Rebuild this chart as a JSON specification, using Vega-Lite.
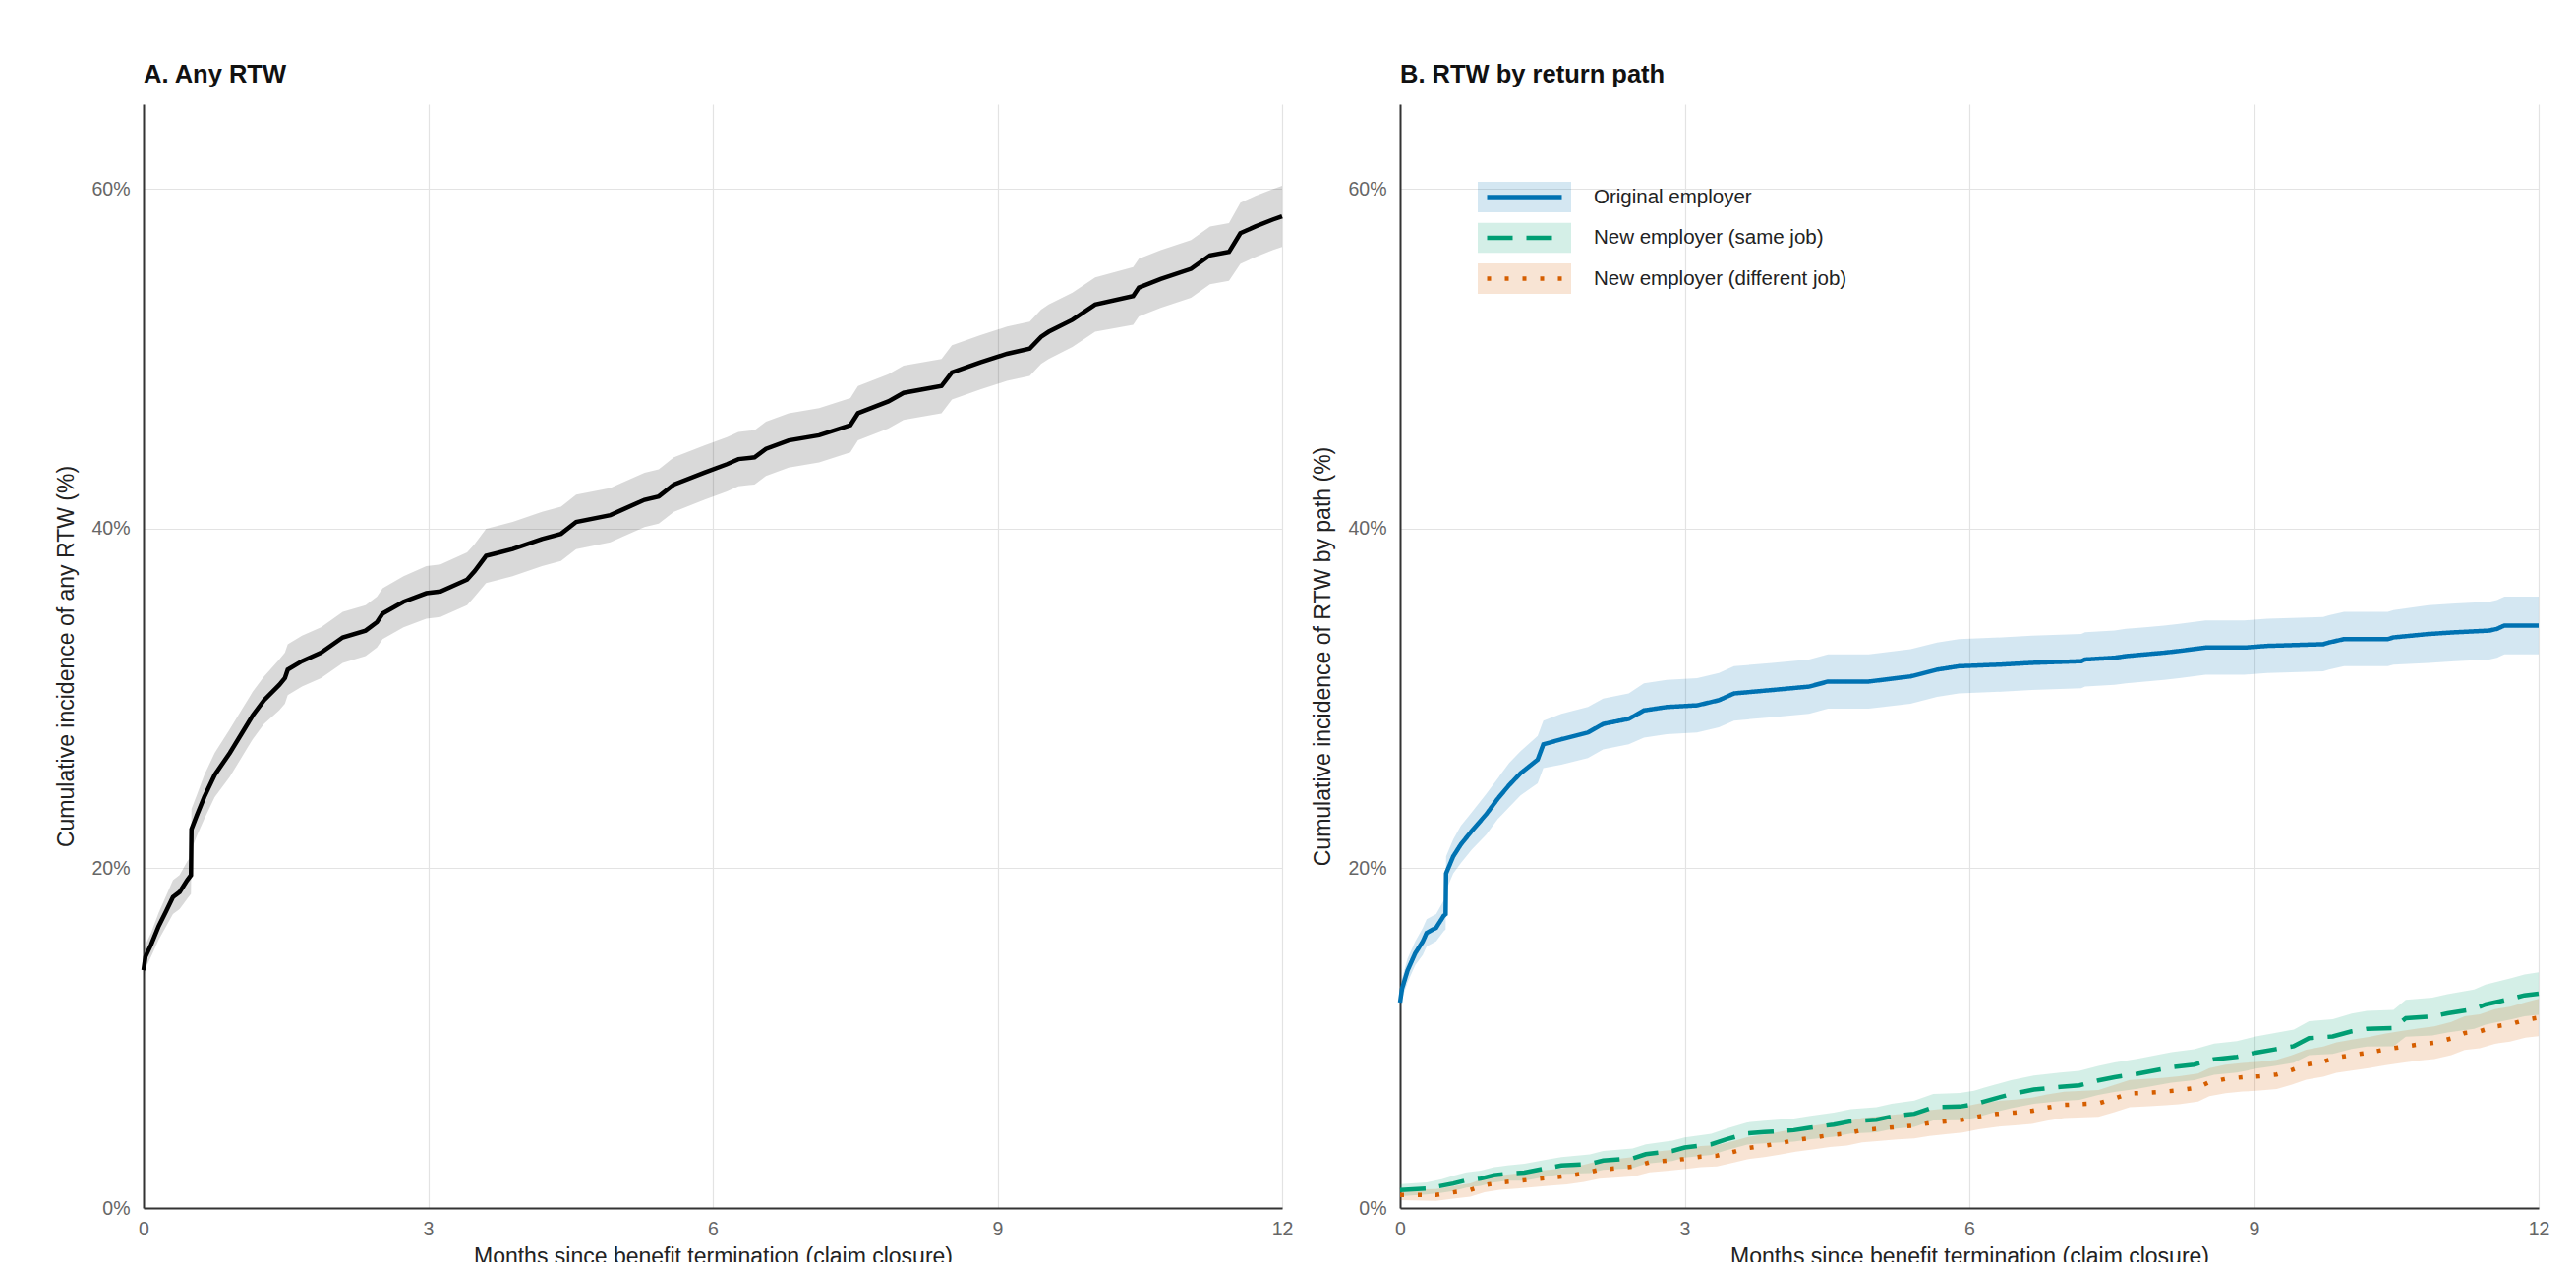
{
  "$schema": "https://vega.github.io/schema/vega-lite/v6.json",
  "background": "white",
  "padding": {"left": 56, "top": 63, "right": 10, "bottom": 10},
  "config": {
    "font": "Liberation Sans",
    "view": {"stroke": null},
    "axis": {
      "labelFont": "Liberation Sans", "labelFontSize": 19.5, "labelColor": "#666666",
      "titleFont": "Liberation Sans", "titleFontSize": 23, "titleFontWeight": "normal", "titleColor": "#222222",
      "ticks": false, "domainColor": "#333333", "domainWidth": 2,
      "gridColor": "#e3e3e3", "gridWidth": 1.2, "labelFlush": false, "labelPadding": 13
    },
    "title": {"font": "Liberation Sans", "fontSize": 25.5, "fontWeight": "bold", "color": "#111111", "anchor": "start", "frame": "group", "baseline": "alphabetic", "offset": 17}
  },
  "datasets": {
    "any": [
      {"t":0,"est":14.0,"lo":13.4,"hi":14.6},{"t":0.02,"est":14.8,"lo":14.1,"hi":15.5},{"t":0.08,"est":15.5,"lo":14.8,"hi":16.2},{"t":0.16,"est":16.6,"lo":15.8,"hi":17.4},{"t":0.24,"est":17.5,"lo":16.6,"hi":18.4},{"t":0.31,"est":18.3,"lo":17.3,"hi":19.3},{"t":0.38,"est":18.6,"lo":17.6,"hi":19.6},{"t":0.46,"est":19.3,"lo":18.2,"hi":20.4},{"t":0.50,"est":19.6,"lo":18.5,"hi":20.7},{"t":0.505,"est":22.3,"lo":21.1,"hi":23.5},{"t":0.56,"est":23.1,"lo":21.9,"hi":24.3},{"t":0.64,"est":24.2,"lo":22.9,"hi":25.5},{"t":0.75,"est":25.5,"lo":24.2,"hi":26.8},{"t":0.91,"est":26.8,"lo":25.4,"hi":28.2},{"t":1.03,"est":27.9,"lo":26.5,"hi":29.3},{"t":1.15,"est":29.0,"lo":27.6,"hi":30.4},{"t":1.27,"est":29.9,"lo":28.5,"hi":31.3},{"t":1.43,"est":30.8,"lo":29.3,"hi":32.3},{"t":1.49,"est":31.2,"lo":29.7,"hi":32.7},{"t":1.52,"est":31.7,"lo":30.2,"hi":33.2},{"t":1.67,"est":32.2,"lo":30.7,"hi":33.7},{"t":1.87,"est":32.7,"lo":31.2,"hi":34.2},{"t":2.10,"est":33.6,"lo":32.1,"hi":35.1},{"t":2.34,"est":34.0,"lo":32.5,"hi":35.5},{"t":2.46,"est":34.5,"lo":33.0,"hi":36.0},{"t":2.52,"est":35.0,"lo":33.5,"hi":36.5},{"t":2.74,"est":35.7,"lo":34.2,"hi":37.2},{"t":2.98,"est":36.2,"lo":34.7,"hi":37.8},{"t":3.13,"est":36.3,"lo":34.8,"hi":37.9},{"t":3.41,"est":37.0,"lo":35.5,"hi":38.6},{"t":3.49,"est":37.5,"lo":36.0,"hi":39.1},{"t":3.61,"est":38.4,"lo":36.8,"hi":40.0},{"t":3.89,"est":38.8,"lo":37.2,"hi":40.4},{"t":4.20,"est":39.4,"lo":37.8,"hi":41.0},{"t":4.40,"est":39.7,"lo":38.1,"hi":41.3},{"t":4.56,"est":40.4,"lo":38.8,"hi":42.0},{"t":4.92,"est":40.8,"lo":39.2,"hi":42.4},{"t":5.04,"est":41.1,"lo":39.5,"hi":42.7},{"t":5.28,"est":41.7,"lo":40.1,"hi":43.3},{"t":5.43,"est":41.9,"lo":40.3,"hi":43.5},{"t":5.59,"est":42.6,"lo":41.0,"hi":44.2},{"t":5.91,"est":43.3,"lo":41.7,"hi":44.9},{"t":6.15,"est":43.8,"lo":42.2,"hi":45.4},{"t":6.27,"est":44.1,"lo":42.5,"hi":45.7},{"t":6.44,"est":44.2,"lo":42.6,"hi":45.8},{"t":6.56,"est":44.7,"lo":43.1,"hi":46.3},{"t":6.80,"est":45.2,"lo":43.6,"hi":46.8},{"t":7.12,"est":45.5,"lo":43.9,"hi":47.1},{"t":7.45,"est":46.1,"lo":44.5,"hi":47.7},{"t":7.53,"est":46.8,"lo":45.2,"hi":48.4},{"t":7.85,"est":47.5,"lo":45.9,"hi":49.1},{"t":8.01,"est":48.0,"lo":46.4,"hi":49.6},{"t":8.41,"est":48.4,"lo":46.8,"hi":50.0},{"t":8.52,"est":49.2,"lo":47.6,"hi":50.8},{"t":8.82,"est":49.8,"lo":48.2,"hi":51.4},{"t":9.10,"est":50.3,"lo":48.7,"hi":51.9},{"t":9.34,"est":50.6,"lo":49.0,"hi":52.2},{"t":9.46,"est":51.3,"lo":49.7,"hi":52.9},{"t":9.54,"est":51.6,"lo":50.0,"hi":53.2},{"t":9.79,"est":52.3,"lo":50.7,"hi":53.9},{"t":10.03,"est":53.2,"lo":51.6,"hi":54.8},{"t":10.43,"est":53.7,"lo":52.0,"hi":55.4},{"t":10.49,"est":54.2,"lo":52.5,"hi":55.9},{"t":10.72,"est":54.7,"lo":53.0,"hi":56.4},{"t":11.04,"est":55.3,"lo":53.6,"hi":57.0},{"t":11.24,"est":56.1,"lo":54.4,"hi":57.8},{"t":11.44,"est":56.3,"lo":54.6,"hi":58.0},{"t":11.56,"est":57.4,"lo":55.6,"hi":59.2},{"t":11.72,"est":57.8,"lo":56.0,"hi":59.6},{"t":11.90,"est":58.2,"lo":56.4,"hi":60.0},{"t":12.0,"est":58.4,"lo":56.6,"hi":60.2}
    ],
    "paths": [
      {"path":"Original employer","t":0,"est":12.1,"lo":11.5,"hi":12.7},{"path":"Original employer","t":0.02,"est":12.9,"lo":12.3,"hi":13.5},{"path":"Original employer","t":0.08,"est":14.0,"lo":13.3,"hi":14.7},{"path":"Original employer","t":0.16,"est":15.0,"lo":14.3,"hi":15.7},{"path":"Original employer","t":0.24,"est":15.7,"lo":14.9,"hi":16.5},{"path":"Original employer","t":0.28,"est":16.2,"lo":15.4,"hi":17.0},{"path":"Original employer","t":0.38,"est":16.5,"lo":15.7,"hi":17.3},{"path":"Original employer","t":0.46,"est":17.2,"lo":16.3,"hi":18.1},{"path":"Original employer","t":0.48,"est":17.3,"lo":16.4,"hi":18.2},{"path":"Original employer","t":0.485,"est":19.7,"lo":18.7,"hi":20.7},{"path":"Original employer","t":0.56,"est":20.7,"lo":19.7,"hi":21.7},{"path":"Original employer","t":0.64,"est":21.4,"lo":20.3,"hi":22.5},{"path":"Original employer","t":0.755,"est":22.2,"lo":21.1,"hi":23.3},{"path":"Original employer","t":0.91,"est":23.2,"lo":22.0,"hi":24.4},{"path":"Original employer","t":1.03,"est":24.1,"lo":22.9,"hi":25.3},{"path":"Original employer","t":1.15,"est":24.9,"lo":23.6,"hi":26.2},{"path":"Original employer","t":1.27,"est":25.6,"lo":24.3,"hi":26.9},{"path":"Original employer","t":1.45,"est":26.4,"lo":25.0,"hi":27.8},{"path":"Original employer","t":1.51,"est":27.3,"lo":25.9,"hi":28.7},{"path":"Original employer","t":1.70,"est":27.6,"lo":26.1,"hi":29.1},{"path":"Original employer","t":1.98,"est":28.0,"lo":26.5,"hi":29.5},{"path":"Original employer","t":2.14,"est":28.5,"lo":27.0,"hi":30.0},{"path":"Original employer","t":2.41,"est":28.8,"lo":27.3,"hi":30.3},{"path":"Original employer","t":2.57,"est":29.3,"lo":27.7,"hi":30.9},{"path":"Original employer","t":2.81,"est":29.5,"lo":27.9,"hi":31.1},{"path":"Original employer","t":3.13,"est":29.6,"lo":28.0,"hi":31.2},{"path":"Original employer","t":3.36,"est":29.9,"lo":28.3,"hi":31.5},{"path":"Original employer","t":3.52,"est":30.3,"lo":28.7,"hi":31.9},{"path":"Original employer","t":3.92,"est":30.5,"lo":28.9,"hi":32.1},{"path":"Original employer","t":4.31,"est":30.7,"lo":29.1,"hi":32.3},{"path":"Original employer","t":4.51,"est":31.0,"lo":29.4,"hi":32.6},{"path":"Original employer","t":4.94,"est":31.0,"lo":29.4,"hi":32.6},{"path":"Original employer","t":5.38,"est":31.3,"lo":29.7,"hi":32.9},{"path":"Original employer","t":5.66,"est":31.7,"lo":30.1,"hi":33.3},{"path":"Original employer","t":5.89,"est":31.9,"lo":30.3,"hi":33.5},{"path":"Original employer","t":6.34,"est":32.0,"lo":30.4,"hi":33.6},{"path":"Original employer","t":6.66,"est":32.1,"lo":30.5,"hi":33.7},{"path":"Original employer","t":7.18,"est":32.2,"lo":30.6,"hi":33.8},{"path":"Original employer","t":7.22,"est":32.3,"lo":30.7,"hi":33.9},{"path":"Original employer","t":7.53,"est":32.4,"lo":30.8,"hi":34.0},{"path":"Original employer","t":7.65,"est":32.5,"lo":30.9,"hi":34.1},{"path":"Original employer","t":7.85,"est":32.6,"lo":31.0,"hi":34.2},{"path":"Original employer","t":8.05,"est":32.7,"lo":31.1,"hi":34.3},{"path":"Original employer","t":8.21,"est":32.8,"lo":31.2,"hi":34.4},{"path":"Original employer","t":8.49,"est":33.0,"lo":31.4,"hi":34.6},{"path":"Original employer","t":8.90,"est":33.0,"lo":31.4,"hi":34.6},{"path":"Original employer","t":9.14,"est":33.1,"lo":31.5,"hi":34.7},{"path":"Original employer","t":9.73,"est":33.2,"lo":31.6,"hi":34.8},{"path":"Original employer","t":9.79,"est":33.3,"lo":31.7,"hi":34.9},{"path":"Original employer","t":9.95,"est":33.5,"lo":31.9,"hi":35.1},{"path":"Original employer","t":10.41,"est":33.5,"lo":31.9,"hi":35.1},{"path":"Original employer","t":10.47,"est":33.6,"lo":32.0,"hi":35.2},{"path":"Original employer","t":10.84,"est":33.8,"lo":32.1,"hi":35.5},{"path":"Original employer","t":11.12,"est":33.9,"lo":32.2,"hi":35.6},{"path":"Original employer","t":11.48,"est":34.0,"lo":32.3,"hi":35.7},{"path":"Original employer","t":11.56,"est":34.1,"lo":32.4,"hi":35.8},{"path":"Original employer","t":11.64,"est":34.3,"lo":32.6,"hi":36.0},{"path":"Original employer","t":12.0,"est":34.3,"lo":32.6,"hi":36.0},
      {"path":"New employer (same job)","t":0,"est":1.06,"lo":0.7,"hi":1.4},{"path":"New employer (same job)","t":0.28,"est":1.15,"lo":0.8,"hi":1.5},{"path":"New employer (same job)","t":0.44,"est":1.31,"lo":0.9,"hi":1.7},{"path":"New employer (same job)","t":0.56,"est":1.44,"lo":1.0,"hi":1.9},{"path":"New employer (same job)","t":0.70,"est":1.63,"lo":1.2,"hi":2.1},{"path":"New employer (same job)","t":0.85,"est":1.73,"lo":1.3,"hi":2.2},{"path":"New employer (same job)","t":0.99,"est":1.92,"lo":1.5,"hi":2.4},{"path":"New employer (same job)","t":1.13,"est":2.02,"lo":1.6,"hi":2.5},{"path":"New employer (same job)","t":1.31,"est":2.08,"lo":1.6,"hi":2.6},{"path":"New employer (same job)","t":1.55,"est":2.35,"lo":1.85,"hi":2.85},{"path":"New employer (same job)","t":1.70,"est":2.50,"lo":2.0,"hi":3.0},{"path":"New employer (same job)","t":2.00,"est":2.60,"lo":2.05,"hi":3.15},{"path":"New employer (same job)","t":2.14,"est":2.79,"lo":2.25,"hi":3.35},{"path":"New employer (same job)","t":2.45,"est":2.92,"lo":2.35,"hi":3.5},{"path":"New employer (same job)","t":2.59,"est":3.17,"lo":2.6,"hi":3.75},{"path":"New employer (same job)","t":2.87,"est":3.36,"lo":2.76,"hi":3.96},{"path":"New employer (same job)","t":3.00,"est":3.56,"lo":2.96,"hi":4.16},{"path":"New employer (same job)","t":3.28,"est":3.75,"lo":3.13,"hi":4.37},{"path":"New employer (same job)","t":3.44,"est":4.04,"lo":3.4,"hi":4.68},{"path":"New employer (same job)","t":3.66,"est":4.39,"lo":3.74,"hi":5.04},{"path":"New employer (same job)","t":3.84,"est":4.47,"lo":3.8,"hi":5.14},{"path":"New employer (same job)","t":4.15,"est":4.58,"lo":3.9,"hi":5.26},{"path":"New employer (same job)","t":4.31,"est":4.72,"lo":4.03,"hi":5.41},{"path":"New employer (same job)","t":4.57,"est":4.91,"lo":4.2,"hi":5.62},{"path":"New employer (same job)","t":4.75,"est":5.10,"lo":4.38,"hi":5.82},{"path":"New employer (same job)","t":5.02,"est":5.20,"lo":4.46,"hi":5.94},{"path":"New employer (same job)","t":5.18,"est":5.39,"lo":4.64,"hi":6.14},{"path":"New employer (same job)","t":5.42,"est":5.55,"lo":4.78,"hi":6.32},{"path":"New employer (same job)","t":5.62,"est":5.93,"lo":5.15,"hi":6.71},{"path":"New employer (same job)","t":5.90,"est":5.97,"lo":5.17,"hi":6.77},{"path":"New employer (same job)","t":6.05,"est":6.10,"lo":5.3,"hi":6.9},{"path":"New employer (same job)","t":6.15,"est":6.26,"lo":5.45,"hi":7.07},{"path":"New employer (same job)","t":6.27,"est":6.45,"lo":5.64,"hi":7.26},{"path":"New employer (same job)","t":6.44,"est":6.70,"lo":5.88,"hi":7.52},{"path":"New employer (same job)","t":6.68,"est":6.97,"lo":6.14,"hi":7.8},{"path":"New employer (same job)","t":6.96,"est":7.13,"lo":6.29,"hi":7.97},{"path":"New employer (same job)","t":7.16,"est":7.22,"lo":6.37,"hi":8.07},{"path":"New employer (same job)","t":7.36,"est":7.51,"lo":6.65,"hi":8.37},{"path":"New employer (same job)","t":7.53,"est":7.70,"lo":6.83,"hi":8.57},{"path":"New employer (same job)","t":7.77,"est":7.90,"lo":7.02,"hi":8.78},{"path":"New employer (same job)","t":8.13,"est":8.28,"lo":7.38,"hi":9.18},{"path":"New employer (same job)","t":8.37,"est":8.44,"lo":7.53,"hi":9.35},{"path":"New employer (same job)","t":8.58,"est":8.76,"lo":7.84,"hi":9.68},{"path":"New employer (same job)","t":8.82,"est":8.90,"lo":7.97,"hi":9.83},{"path":"New employer (same job)","t":9.02,"est":9.15,"lo":8.2,"hi":10.1},{"path":"New employer (same job)","t":9.22,"est":9.34,"lo":8.37,"hi":10.31},{"path":"New employer (same job)","t":9.42,"est":9.53,"lo":8.55,"hi":10.51},{"path":"New employer (same job)","t":9.58,"est":10.0,"lo":9.0,"hi":11.0},{"path":"New employer (same job)","t":9.83,"est":10.1,"lo":9.08,"hi":11.12},{"path":"New employer (same job)","t":10.03,"est":10.4,"lo":9.36,"hi":11.44},{"path":"New employer (same job)","t":10.19,"est":10.55,"lo":9.5,"hi":11.6},{"path":"New employer (same job)","t":10.47,"est":10.59,"lo":9.52,"hi":11.66},{"path":"New employer (same job)","t":10.60,"est":11.17,"lo":10.08,"hi":12.26},{"path":"New employer (same job)","t":10.88,"est":11.27,"lo":10.16,"hi":12.38},{"path":"New employer (same job)","t":11.04,"est":11.46,"lo":10.33,"hi":12.59},{"path":"New employer (same job)","t":11.32,"est":11.71,"lo":10.55,"hi":12.87},{"path":"New employer (same job)","t":11.44,"est":11.98,"lo":10.8,"hi":13.16},{"path":"New employer (same job)","t":11.72,"est":12.33,"lo":11.12,"hi":13.54},{"path":"New employer (same job)","t":11.85,"est":12.52,"lo":11.29,"hi":13.75},{"path":"New employer (same job)","t":12.0,"est":12.62,"lo":11.37,"hi":13.87},
      {"path":"New employer (different job)","t":0,"est":0.77,"lo":0.47,"hi":1.07},{"path":"New employer (different job)","t":0.38,"est":0.77,"lo":0.42,"hi":1.12},{"path":"New employer (different job)","t":0.56,"est":0.92,"lo":0.55,"hi":1.29},{"path":"New employer (different job)","t":0.74,"est":1.06,"lo":0.67,"hi":1.45},{"path":"New employer (different job)","t":0.89,"est":1.34,"lo":0.93,"hi":1.75},{"path":"New employer (different job)","t":1.05,"est":1.50,"lo":1.07,"hi":1.93},{"path":"New employer (different job)","t":1.23,"est":1.58,"lo":1.14,"hi":2.02},{"path":"New employer (different job)","t":1.41,"est":1.69,"lo":1.23,"hi":2.15},{"path":"New employer (different job)","t":1.59,"est":1.79,"lo":1.32,"hi":2.26},{"path":"New employer (different job)","t":1.76,"est":1.88,"lo":1.39,"hi":2.37},{"path":"New employer (different job)","t":1.94,"est":2.04,"lo":1.53,"hi":2.55},{"path":"New employer (different job)","t":2.10,"est":2.25,"lo":1.72,"hi":2.78},{"path":"New employer (different job)","t":2.30,"est":2.35,"lo":1.8,"hi":2.9},{"path":"New employer (different job)","t":2.47,"est":2.44,"lo":1.87,"hi":3.01},{"path":"New employer (different job)","t":2.63,"est":2.69,"lo":2.1,"hi":3.28},{"path":"New employer (different job)","t":2.81,"est":2.78,"lo":2.18,"hi":3.38},{"path":"New employer (different job)","t":2.99,"est":2.88,"lo":2.28,"hi":3.48},{"path":"New employer (different job)","t":3.17,"est":3.02,"lo":2.4,"hi":3.64},{"path":"New employer (different job)","t":3.34,"est":3.08,"lo":2.45,"hi":3.71},{"path":"New employer (different job)","t":3.52,"est":3.31,"lo":2.67,"hi":3.95},{"path":"New employer (different job)","t":3.66,"est":3.52,"lo":2.87,"hi":4.17},{"path":"New employer (different job)","t":3.84,"est":3.66,"lo":3.0,"hi":4.32},{"path":"New employer (different job)","t":4.00,"est":3.81,"lo":3.14,"hi":4.48},{"path":"New employer (different job)","t":4.17,"est":4.00,"lo":3.32,"hi":4.68},{"path":"New employer (different job)","t":4.35,"est":4.14,"lo":3.45,"hi":4.83},{"path":"New employer (different job)","t":4.53,"est":4.29,"lo":3.59,"hi":4.99},{"path":"New employer (different job)","t":4.71,"est":4.39,"lo":3.68,"hi":5.1},{"path":"New employer (different job)","t":4.87,"est":4.58,"lo":3.86,"hi":5.3},{"path":"New employer (different job)","t":5.06,"est":4.68,"lo":3.95,"hi":5.41},{"path":"New employer (different job)","t":5.24,"est":4.77,"lo":4.03,"hi":5.51},{"path":"New employer (different job)","t":5.42,"est":4.85,"lo":4.1,"hi":5.6},{"path":"New employer (different job)","t":5.58,"est":5.00,"lo":4.24,"hi":5.76},{"path":"New employer (different job)","t":5.75,"est":5.10,"lo":4.34,"hi":5.86},{"path":"New employer (different job)","t":5.93,"est":5.20,"lo":4.44,"hi":5.96},{"path":"New employer (different job)","t":6.10,"est":5.39,"lo":4.63,"hi":6.15},{"path":"New employer (different job)","t":6.29,"est":5.54,"lo":4.78,"hi":6.3},{"path":"New employer (different job)","t":6.48,"est":5.62,"lo":4.86,"hi":6.38},{"path":"New employer (different job)","t":6.66,"est":5.72,"lo":4.95,"hi":6.49},{"path":"New employer (different job)","t":6.82,"est":5.91,"lo":5.14,"hi":6.68},{"path":"New employer (different job)","t":7.00,"est":6.07,"lo":5.29,"hi":6.85},{"path":"New employer (different job)","t":7.36,"est":6.16,"lo":5.37,"hi":6.95},{"path":"New employer (different job)","t":7.53,"est":6.45,"lo":5.65,"hi":7.25},{"path":"New employer (different job)","t":7.69,"est":6.74,"lo":5.94,"hi":7.54},{"path":"New employer (different job)","t":7.85,"est":6.78,"lo":5.97,"hi":7.59},{"path":"New employer (different job)","t":8.03,"est":6.84,"lo":6.03,"hi":7.65},{"path":"New employer (different job)","t":8.21,"est":6.93,"lo":6.11,"hi":7.75},{"path":"New employer (different job)","t":8.41,"est":7.09,"lo":6.26,"hi":7.92},{"path":"New employer (different job)","t":8.53,"est":7.41,"lo":6.58,"hi":8.24},{"path":"New employer (different job)","t":8.70,"est":7.60,"lo":6.76,"hi":8.44},{"path":"New employer (different job)","t":8.88,"est":7.70,"lo":6.86,"hi":8.54},{"path":"New employer (different job)","t":9.06,"est":7.76,"lo":6.91,"hi":8.61},{"path":"New employer (different job)","t":9.24,"est":7.86,"lo":7.0,"hi":8.72},{"path":"New employer (different job)","t":9.40,"est":8.13,"lo":7.26,"hi":9.0},{"path":"New employer (different job)","t":9.55,"est":8.44,"lo":7.56,"hi":9.32},{"path":"New employer (different job)","t":9.73,"est":8.61,"lo":7.72,"hi":9.5},{"path":"New employer (different job)","t":9.87,"est":8.86,"lo":7.96,"hi":9.76},{"path":"New employer (different job)","t":10.03,"est":9.00,"lo":8.09,"hi":9.91},{"path":"New employer (different job)","t":10.21,"est":9.15,"lo":8.23,"hi":10.07},{"path":"New employer (different job)","t":10.39,"est":9.34,"lo":8.41,"hi":10.27},{"path":"New employer (different job)","t":10.55,"est":9.48,"lo":8.54,"hi":10.42},{"path":"New employer (different job)","t":10.74,"est":9.63,"lo":8.68,"hi":10.58},{"path":"New employer (different job)","t":10.90,"est":9.73,"lo":8.77,"hi":10.69},{"path":"New employer (different job)","t":11.08,"est":9.98,"lo":9.0,"hi":10.96},{"path":"New employer (different job)","t":11.22,"est":10.30,"lo":9.31,"hi":11.29},{"path":"New employer (different job)","t":11.38,"est":10.40,"lo":9.4,"hi":11.4},{"path":"New employer (different job)","t":11.54,"est":10.69,"lo":9.67,"hi":11.71},{"path":"New employer (different job)","t":11.70,"est":10.82,"lo":9.79,"hi":11.85},{"path":"New employer (different job)","t":11.86,"est":11.07,"lo":10.03,"hi":12.11},{"path":"New employer (different job)","t":12.0,"est":11.21,"lo":10.11,"hi":12.31}
    ]
  },
  "hconcat": [
    {
      "title": {"text": "A. Any RTW"},
      "data": {"name": "any"},
      "width": 1158,
      "height": 1123,
      "encoding": {
        "x": {"field": "t", "type": "quantitative", "scale": {"domain": [0, 12], "nice": false, "zero": false},
              "axis": {"values": [0, 3, 6, 9, 12], "title": "Months since benefit termination (claim closure)", "titlePadding": 8, "labelPadding": 12}}
      },
      "layer": [
        {"mark": {"type": "area", "color": "#000000", "opacity": 0.15},
         "encoding": {
           "y": {"field": "lo", "type": "quantitative", "scale": {"domain": [0, 65], "nice": false},
                 "axis": {"values": [0, 20, 40, 60], "labelExpr": "datum.value + '%'", "title": "Cumulative incidence of any RTW (%)", "titlePadding": 13, "labelPadding": 14}},
           "y2": {"field": "hi"}
         }},
        {"mark": {"type": "line", "color": "#000000", "strokeWidth": 4.5, "strokeCap": "butt"},
         "encoding": {"y": {"field": "est", "type": "quantitative"}}}
      ]
    },
    {
      "title": {"text": "B. RTW by return path"},
      "data": {"name": "paths"},
      "width": 1158,
      "height": 1123,
      "encoding": {
        "x": {"field": "t", "type": "quantitative", "scale": {"domain": [0, 12], "nice": false, "zero": false},
              "axis": {"values": [0, 3, 6, 9, 12], "title": "Months since benefit termination (claim closure)", "titlePadding": 8, "labelPadding": 12}}
      },
      "layer": [
        {"mark": {"type": "area", "opacity": 0.17},
         "encoding": {
           "y": {"field": "lo", "type": "quantitative", "scale": {"domain": [0, 65], "nice": false},
                 "axis": {"values": [0, 20, 40, 60], "labelExpr": "datum.value + '%'", "title": "Cumulative incidence of RTW by path (%)", "titlePadding": 13, "labelPadding": 14}},
           "y2": {"field": "hi"},
           "fill": {"field": "path", "type": "nominal", "sort": "descending",
                    "scale": {"range": ["#0072B2", "#009E73", "#D55E00"]},
                    "legend": {"orient": "none", "legendX": 1354.5, "legendY": 79, "title": null, "padding": 0,
                               "symbolType": "M-1,-0.326H1V0.326H-1Z", "symbolSize": 9025, "symbolStrokeWidth": 4.5, "symbolStrokeColor": "transparent",
                               "clipHeight": 31, "rowPadding": 10.5, "labelOffset": 20.5, "labelFontSize": 20.5, "labelLimit": 0, "labelOpacity": 0}}
         }},
        {"mark": {"type": "line", "strokeWidth": 4.5, "strokeCap": "butt"},
         "encoding": {
           "y": {"field": "est", "type": "quantitative"},
           "stroke": {"field": "path", "type": "nominal", "sort": {"field": "est", "op": "max", "order": "descending"},
                      "scale": {"range": ["#0072B2", "#009E73", "#D55E00"]},
                      "legend": {"orient": "none", "legendX": 1354.5, "legendY": 79, "title": null, "padding": 0,
                                 "symbolType": "M-0.8,0H0.8", "symbolSize": 9025, "symbolStrokeWidth": 4.5,
                                 "clipHeight": 31, "rowPadding": 10.5, "labelOffset": 20.5, "labelFontSize": 20.5, "labelLimit": 0, "labelColor": "#222222"}},
           "strokeDash": {"field": "path", "type": "nominal", "sort": {"field": "est", "op": "max", "order": "descending"},
                          "scale": {"range": [[1, 0], [26, 14], [4, 14]]},
                          "legend": {"orient": "none", "legendX": 1354.5, "legendY": 79, "title": null, "padding": 0,
                                     "symbolType": "M-0.8,0H0.8", "symbolSize": 9025, "symbolStrokeWidth": 4.5,
                                     "clipHeight": 31, "rowPadding": 10.5, "labelOffset": 20.5, "labelFontSize": 20.5, "labelLimit": 0, "labelColor": "#222222"}}
         }}
      ]
    }
  ],
  "spacing": 120,
  "bounds": "flush"
}
